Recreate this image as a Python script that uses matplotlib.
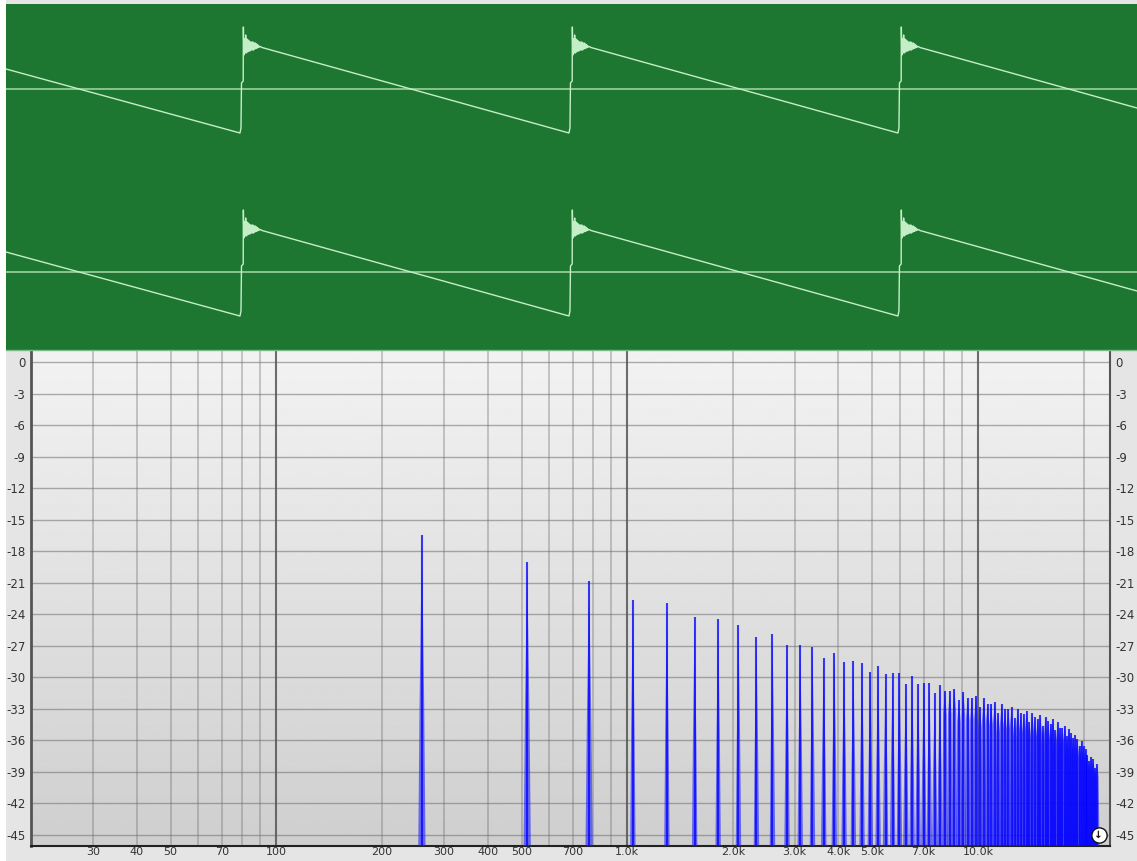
import matplotlib
matplotlib.use("Agg")
import matplotlib.pyplot as plt
from matplotlib.lines import Line2D
from matplotlib.patches import Rectangle
import numpy as np

W, H = 1137, 861

# waveform: ms / amplitude, one ramp and the ringing after each jump
jump_times = [2.743, 6.600, 10.457]
start_time, start_amp = 0.0, 0.20
end_time, end_amp = 13.26, -0.19
ramp_low = -0.44
ring_time = [0.012, 0.018, 0.038, 0.040, 0.046, 0.053, 0.059, 0.067, 0.074, 0.082, 0.089, 0.096, 0.103, 0.110,
             0.117, 0.124, 0.131, 0.138, 0.145, 0.152, 0.159, 0.166, 0.174, 0.181, 0.188, 0.195, 0.202, 0.209,
             0.216, 0.223, 0.230, 0.240, 0.258]
ring_amp = [-0.39, 0.06, 0.08, 0.62, 0.34, 0.50, 0.36, 0.54, 0.36, 0.50, 0.37, 0.49, 0.38, 0.48,
            0.38, 0.47, 0.39, 0.47, 0.39, 0.47, 0.39, 0.46, 0.40, 0.46, 0.405, 0.45, 0.41, 0.44,
            0.415, 0.43, 0.42, 0.425, 0.415]

# spectrum: harmonic frequency (Hz) and peak level (dB)
harm_freq = [260, 519, 779, 1038, 1298, 1557, 1817, 2076, 2336, 2595, 2855, 3114, 3374, 3633, 3893, 4152, 4412,
             4671, 4931, 5190, 5450, 5709, 5969, 6228, 6488, 6747, 7007, 7266, 7526, 7785, 8045, 8304, 8564, 8823,
             9083, 9342, 9602, 9861, 10121, 10380, 10640, 10899, 11159, 11418, 11678, 11937, 12197, 12456, 12716,
             12975, 13235, 13494, 13754, 14013, 14273, 14532, 14792, 15051, 15311, 15570, 15830, 16089, 16349,
             16608, 16868, 17127, 17387, 17646, 17906, 18165, 18425, 18684, 18944, 19203, 19463, 19722, 19982,
             20241, 20501, 20760, 21020, 21279, 21539, 21798]
harm_db = [-16.5, -19.06, -20.8, -22.6, -22.9, -24.3, -24.5, -25.05, -26.2, -25.9, -26.9, -26.9, -27.1, -28.2,
           -27.66, -28.5, -28.45, -28.6, -29.5, -28.95, -29.7, -29.6, -29.6, -30.6, -29.9, -30.6, -30.5, -30.5,
           -31.5, -30.7, -31.3, -31.3, -31.15, -32.2, -31.4, -31.95, -31.95, -31.8, -32.8, -32.0, -32.5, -32.55,
           -32.35, -33.4, -32.5, -33.0, -33.05, -32.85, -33.9, -33.0, -33.4, -33.5, -33.2, -34.3, -33.4, -33.8,
           -34.0, -33.6, -34.6, -33.8, -34.2, -34.4, -34.0, -35.0, -34.25, -34.8, -34.8, -34.6, -35.6, -34.9,
           -35.3, -35.75, -35.5, -35.9, -36.5, -36.1, -36.5, -36.85, -37.4, -38.0, -37.6, -37.8, -38.6, -38.25]

db_ticks = list(range(0, -46, -3))
grid_freq = [30, 40, 50, 60, 70, 80, 90, 200, 300, 400, 500, 600, 700, 800, 900,
             2000, 3000, 4000, 5000, 6000, 7000, 8000, 9000, 20000]
major_freq = [100, 1000, 10000]
label_freq = [30, 40, 50, 70, 100, 200, 300, 400, 500, 700, 1000, 2000, 3000, 4000, 5000, 7000, 10000]
label_text = ["30", "40", "50", "70", "100", "200", "300", "400", "500", "700",
              "1.0k", "2.0k", "3.0k", "4.0k", "5.0k", "7.0k", "10.0k"]


def box(x0, y0, x1, y1):
    return [x0 / W, 1 - y1 / H, (x1 - x0) / W, (y1 - y0) / H]


def wave_points():
    t = [start_time]
    a = [start_amp]
    for j in jump_times:
        t.append(j)
        a.append(ramp_low)
        t.extend(j + d for d in ring_time)
        a.extend(ring_amp)
    t.append(end_time)
    a.append(end_amp)
    return t, a


fig = plt.figure(figsize=(W / 100, H / 100), dpi=100, facecolor="white")
fig.patches.append(Rectangle((6 / W, 0), 1 - 6 / W, 1, transform=fig.transFigure, facecolor="#e5e5e5",
                             edgecolor="none", zorder=-5))

# two channels of the waveform
t, a = wave_points()
for rect, lim in [(box(6, 4, W, 181), (-0.92, 0.85)), (box(6, 181, W, 350), (-0.78, 0.91))]:
    ax = fig.add_axes(rect, facecolor="#1e7731")
    ax.set_xlim(0, 13.26)
    ax.set_ylim(*lim)
    ax.axis("off")
    ax.add_patch(Rectangle((0, 0), 1, 1, transform=ax.transAxes, facecolor="#1e7731", edgecolor="none", zorder=0))
    ax.axhline(0, color="#a6d8a8", lw=1.1, zorder=2)
    ax.plot(t, a, color="#c4eec6", lw=1.0, zorder=3)

# grey gradient behind the spectrum
bg = fig.add_axes(box(31, 350, 1110, 846))
bg.imshow(np.linspace(0.95, 0.81, 256)[:, None], aspect="auto", cmap="gray", vmin=0, vmax=1)
bg.axis("off")

ax = fig.add_axes(box(31, 350, 1110, 846), facecolor="none")
ax.set_xscale("log")
ax.set_xlim(20, 23770)
ax.set_ylim(-46.05, 1.14)
ax.set_zorder(bg.get_zorder() + 1)

for d in db_ticks:
    ax.axhline(d, color="#6e6e6e", lw=1.0, alpha=0.55, zorder=1)
for f in grid_freq:
    ax.axvline(f, color="#6e6e6e", lw=1.2, alpha=0.42, zorder=1)
for f in major_freq:
    ax.axvline(f, color="#555555", lw=1.5, alpha=0.85, zorder=1)

bottom = -46.05
for i, (f, p) in enumerate(zip(harm_freq, harm_db)):
    # spike is narrow at the peak and opens out towards the floor
    spread = 1.024 if i < 3 else 1.018
    knee = bottom + (0.45 if i < 30 else 0.85) * (p - bottom)
    xs = [f / spread, f / spread ** 0.65, f, f * spread ** 0.65, f * spread]
    ys = [bottom, knee, p, knee, bottom]
    ax.fill(xs, ys, color="#2020ff", alpha=0.6, lw=0, zorder=3)
    ax.plot([f, f], [bottom, p], color="#0000ff", lw=1.5, alpha=0.75, solid_capstyle="butt", zorder=4)

ax.set_yticks(db_ticks)
ax.set_yticklabels([str(d) for d in db_ticks])
ax.set_xticks(label_freq)
ax.set_xticklabels(label_text)
ax.minorticks_off()
ax.tick_params(axis="y", length=0, left=True, right=True, labelleft=True, labelright=True,
               labelsize=8.5, labelcolor="#333333", pad=4)
ax.tick_params(axis="x", length=0, labelsize=8, labelcolor="#333333", pad=1)
for side, c, lw in [("left", "#555555", 2), ("right", "#555555", 1.5), ("bottom", "#222222", 1.5)]:
    ax.spines[side].set_color(c)
    ax.spines[side].set_linewidth(lw)
ax.spines["top"].set_visible(False)

# scroll button in the corner
ax.plot([0.9895], [0.0215], "o", transform=ax.transAxes, ms=11, mfc="white", mec="#111111", mew=1, zorder=6, clip_on=False)
ax.text(0.9895, 0.0215, "↓", transform=ax.transAxes, fontsize=7.5, fontweight="bold", color="#111111",
        ha="center", va="center", zorder=7)

# thin pale edge under the green panel
fig.add_artist(Line2D([6 / W, 1], [1 - 350 / H, 1 - 350 / H], color="#7fb88a", lw=1))

fig.savefig("out.png", dpi=100, facecolor=fig.get_facecolor())
